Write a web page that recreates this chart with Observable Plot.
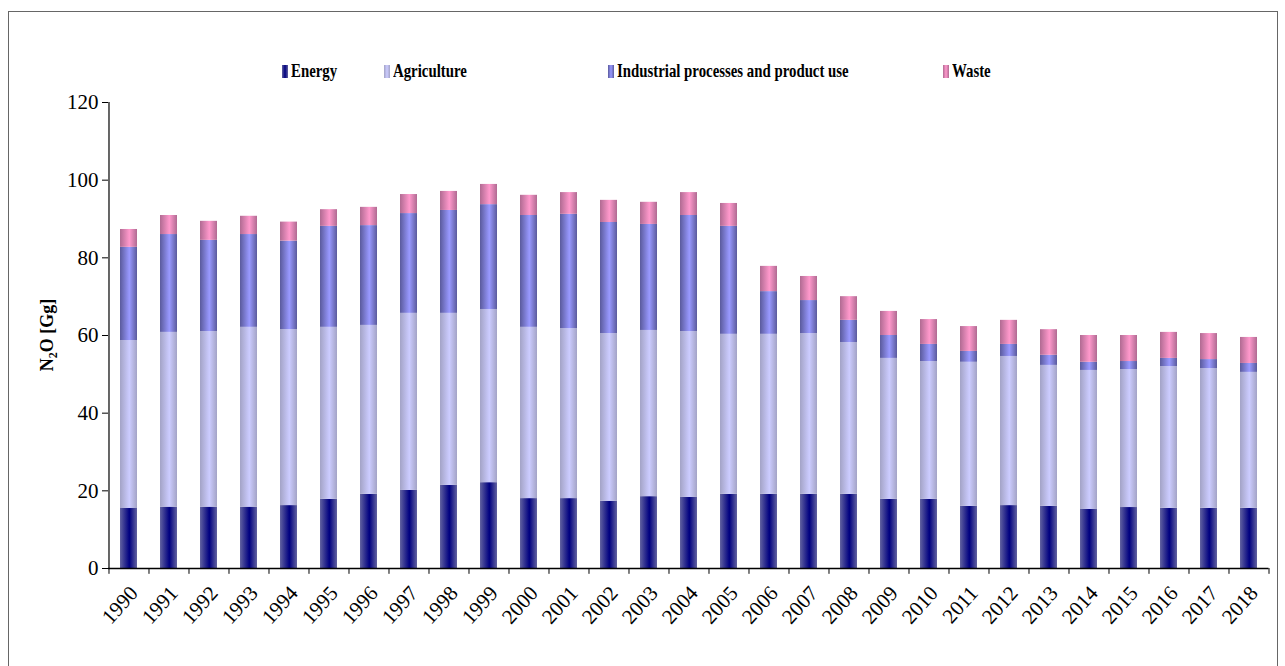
<!DOCTYPE html>
<html>
<head>
<meta charset="utf-8">
<script src="https://cdn.jsdelivr.net/npm/d3@7"></script>
<script src="https://cdn.jsdelivr.net/npm/@observablehq/plot@0.6"></script>
<style>
  html, body { margin: 0; padding: 0; background: #fff; }
  body { width: 1285px; height: 666px; overflow: hidden; position: relative; font-family: "Liberation Serif", "Times New Roman", serif; }
  #frame { position: absolute; left: 8px; top: 11px; width: 1270px; height: 700px; border: 1.5px solid #666; box-sizing: border-box; pointer-events: none; }
  #legend { position: relative; height: 90px; }
  .item { position: absolute; top: 60px; display: flex; align-items: center; }
  .sw { width: 6px; height: 13px; margin-right: 3px; }
  .lab { font-weight: bold; font-size: 19px; color: #000; display: inline-block; transform: scaleX(0.78); transform-origin: left center; white-space: nowrap; }
  #chart svg { display: block; }
</style>
</head>
<body>
<div id="frame"></div>
<div id="legend"></div>
<div id="chart"></div>
<script>
const years = [1990,1991,1992,1993,1994,1995,1996,1997,1998,1999,2000,2001,2002,2003,2004,2005,2006,2007,2008,2009,2010,2011,2012,2013,2014,2015,2016,2017,2018];
const sectors = ["Energy", "Agriculture", "Industrial processes and product use", "Waste"];
const energy = [15.45,15.8,15.8,15.8,16.2,17.8,19.1,20.1,21.4,22.1,18.0,18.0,17.3,18.5,18.3,19.1,19.1,19.1,19.1,17.8,17.8,16.0,16.2,16.0,15.2,15.7,15.5,15.5,15.5];
const agriculture = [43.25,45.0,45.2,46.3,45.3,44.3,43.5,45.6,44.3,44.6,44.1,43.8,43.2,42.8,42.7,41.2,41.2,41.4,39.1,36.3,35.5,37.1,38.4,36.3,35.8,35.5,36.5,36.0,35.0];
const industrial = [24.0,25.2,23.5,23.9,22.8,26.0,25.7,25.7,26.5,27.0,28.8,29.4,28.6,27.3,29.9,27.8,11.0,8.5,5.7,5.9,4.4,2.8,3.1,2.6,2.1,2.1,2.1,2.3,2.3];
const waste = [4.6,4.9,4.9,4.7,4.9,4.3,4.7,4.9,4.9,5.2,5.2,5.6,5.7,5.7,5.9,5.9,6.5,6.2,6.1,6.2,6.4,6.4,6.2,6.6,6.9,6.7,6.7,6.7,6.7];
const yTicks = [0,20,40,60,80,100,120];

// gradient colours: [edge, centre]
const grads = {
  "Energy": ["#6262a0", "#000080"],
  "Agriculture": ["#a3a3c6", "#ccccff"],
  "Industrial processes and product use": ["#5a5a9c", "#9999ff"],
  "Waste": ["#b06a92", "#ff99cc"]
};
const ids = ["gEnergy", "gAgri", "gInd", "gWaste"];

const series = [energy, agriculture, industrial, waste];
const data = [];
years.forEach((yr, i) => sectors.forEach((s, k) => data.push({year: yr, sector: s, value: series[k][i]})));

const W = 1285, H = 576;
const mL = 108, mR = 16.5, mT = 12, mB = 98;
const step = (W - mL - mR) / years.length;

const chart = Plot.plot({
  width: W, height: H,
  marginLeft: mL, marginRight: mR, marginTop: mT, marginBottom: mB,
  style: {fontFamily: "'Liberation Serif', 'Times New Roman', serif", fontSize: "21px", color: "#000", background: "#fff"},
  x: {domain: years, paddingInner: 0.575, paddingOuter: 0.2875, label: null},
  y: {domain: [0, 120], ticks: yTicks, label: null},
  color: {domain: sectors, range: ids.map(id => `url(#${id})`)},
  marks: [
    Plot.barY(data, {x: "year", y: "value", fill: "sector", order: sectors}),
    Plot.axisY({ticks: yTicks, tickSize: 6, tickPadding: 4, fontSize: 21, label: null, stroke: "#000"}),
    Plot.ruleX([0], {x: () => years[0], dx: -step/2, y1: 0, y2: 120, stroke: "#000", strokeWidth: 1.2}),
    Plot.ruleY([0], {stroke: "#000", strokeWidth: 1.5}),
    Plot.ruleX(years, {x: d => d, dx: -step/2, y1: 0, y2: -1.5, stroke: "#000"}),
    Plot.ruleX([years[years.length-1]], {x: d => d, dx: step/2, y1: 0, y2: -1.5, stroke: "#000"}),
    Plot.axisX({tickSize: 0, tickRotate: -48, tickPadding: 4, dx: 5, dy: 17, fontSize: 21, label: null, tickFormat: d => String(d)})
  ]
});

// inject gradient definitions
const ns = "http://www.w3.org/2000/svg";
const defs = document.createElementNS(ns, "defs");
sectors.forEach((s, k) => {
  const g = document.createElementNS(ns, "linearGradient");
  g.setAttribute("id", ids[k]);
  g.setAttribute("x1", "0"); g.setAttribute("x2", "1"); g.setAttribute("y1", "0"); g.setAttribute("y2", "0");
  [[0, grads[s][0]], [0.55, grads[s][1]], [1, grads[s][0]]].forEach(([o, c]) => {
    const st = document.createElementNS(ns, "stop");
    st.setAttribute("offset", o); st.setAttribute("stop-color", c);
    g.appendChild(st);
  });
  defs.appendChild(g);
});
chart.insertBefore(defs, chart.firstChild);

// y axis title
const yt = document.createElementNS(ns, "text");
yt.setAttribute("transform", `translate(53, ${(mT + H - mB) / 2 + 0}) rotate(-90)`);
yt.setAttribute("text-anchor", "middle");
yt.setAttribute("font-weight", "bold");
yt.setAttribute("font-size", "18");
yt.setAttribute("fill", "#000");
yt.innerHTML = 'N<tspan font-size="12" dy="4">2</tspan><tspan dy="-4">O [Gg]</tspan>';
chart.appendChild(yt);

document.getElementById("chart").appendChild(chart);

// legend
const legendX = [282, 384, 608, 943];
const leg = document.getElementById("legend");
sectors.forEach((s, k) => {
  const it = document.createElement("div");
  it.className = "item";
  it.style.left = legendX[k] + "px";
  const sw = document.createElement("div");
  sw.className = "sw";
  sw.style.background = `linear-gradient(to right, ${grads[s][0]}, ${grads[s][1]}, ${grads[s][0]})`;
  const lab = document.createElement("span");
  lab.className = "lab";
  lab.textContent = s;
  it.appendChild(sw); it.appendChild(lab);
  leg.appendChild(it);
});
</script>
</body>
</html>
